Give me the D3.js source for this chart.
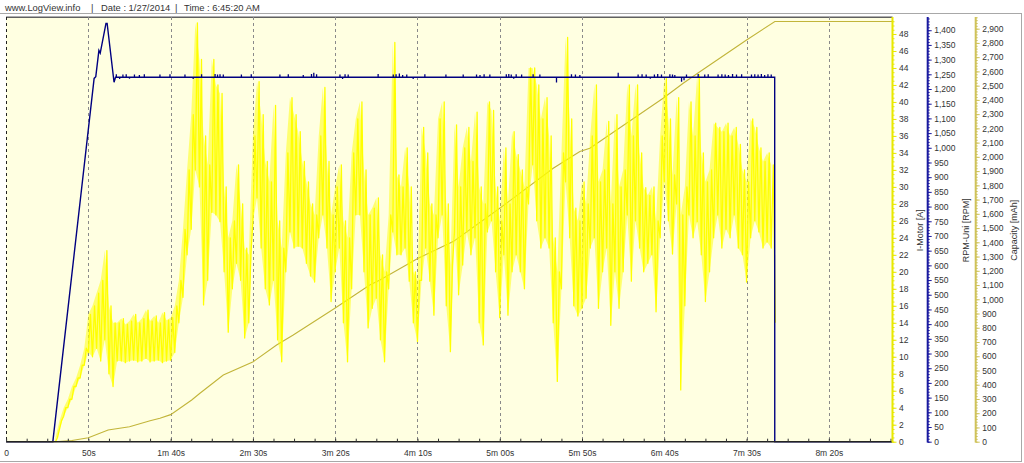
<!DOCTYPE html>
<html><head><meta charset="utf-8">
<script src="https://cdn.jsdelivr.net/npm/d3@7"></script>
<style>
body{margin:0;background:#fff}
svg{display:block}
text{font-family:"Liberation Sans",Arial,sans-serif;fill:#333}
</style>
</head><body>
<svg id="c" width="1024" height="463"></svg>
<script>
// ---------------- data ----------------
const headerItems = ["www.LogView.info", "|", "Date : 1/27/2014", "|", "Time : 6:45:20 AM"];
const timeTicks = [0, 50, 100, 150, 200, 250, 300, 350, 400, 450, 500];
const timeTickLabels = ["0", "50s", "1m 40s", "2m 30s", "3m 20s", "4m 10s", "5m 00s", "5m 50s", "6m 40s", "7m 30s", "8m 20s"];
const timeMax = 538.7;

const currentTicks = [0,2,4,6,8,10,12,14,16,18,20,22,24,26,28,30,32,34,36,38,40,42,44,46,48];
const rpmTicks = [0,50,100,150,200,250,300,350,400,450,500,550,600,650,700,750,800,850,900,950,1000,1050,1100,1150,1200,1250,1300,1350,1400];
const capacityTicks = [0,100,200,300,400,500,600,700,800,900,1000,1100,1200,1300,1400,1500,1600,1700,1800,1900,2000,2100,2200,2300,2400,2500,2600,2700,2800,2900];
const axisTitles = ["I-Motor [A]", "RPM-Uni [RPM]", "Capacity [mAh]"];

// I-Motor [A]: samples every 1.25 s starting at 30 s (alternating local low / high readings)
const currentStart = 30, currentStep = 1.25;
const currentValues = [
  0,0.5, 1.5,2.5, 3,4, 4,5, 5,6.5, 6.5,7.5, 7.5,9, 9,11,
  10.5,15, 10,16, 11,17.5, 9.5,19, 12,22.5, 8,16, 6.5,14, 9.5,14,
  9.5,14.5, 9.3,13.8, 9.5,14.2, 9.6,15, 9.4,14, 9.5,14.5, 9.8,15.5, 9.4,14.2,
  9.5,14.8, 9.6,14, 9.3,15.2, 9.5,14.3, 9.6,14.6, 10.5,16,
  14,19, 17,25, 22,32, 25,38.5,
  32,49.3, 30,45, 16.1,36, 19,32.6,
  27,45, 26.7,42, 25.9,41, 20,30,
  12.9,24, 18,26, 21,32.6, 19,28,
  12.2,22.8, 14,22, 26,36, 28.7,42.4,
  22.8,38.5, 18,33, 16.1,30.6, 19,39.6,
  12,26, 9.4,22.8, 20,34, 24.7,40.5,
  22.8,38.5, 23,36.5, 22.8,33, 21,30.6,
  19.5,28, 18.8,26.7, 24,36, 26.7,41.7,
  22.8,33, 16.5,26.7, 20,30, 22.8,32.6,
  14,26, 9.4,24, 18,34, 26.7,38,
  26.7,40, 20,32, 13.4,26.7, 15.7,27.5,
  16.9,28.7, 12,22, 9.4,20, 18,26.7,
  24.7,47, 22,31.4, 22,30, 22.8,34.6,
  18.9,30, 14,20, 11.8,19, 19,37,
  22.8,34, 18.9,28, 14.9,26.7, 24,38,
  26.7,40, 16,28, 10.6,20.8, 24.7,37.3,
  17.3,30, 20.8,34.6, 24.7,37, 22,33,
  24,38.8, 14,30, 11.4,28, 24.7,40,
  26,39, 20,30, 14.6,26, 22,34.6,
  14.9,28, 20,36.5, 22,33.8, 20,32,
  18,30, 28,44, 32.6,44, 26,42,
  22.8,38, 24,40.5, 22.8,36, 14,24,
  7.1,20, 18,34, 30.6,47.6, 24,38,
  16,27.5, 14.8,26, 15.7,30.6, 16.9,28,
  22.8,36, 24,42, 15.7,30.6, 20,32,
  22.8,37.7, 13.7,28, 20,38.5, 15.7,30,
  20,32, 26.7,42, 18.9,36, 26,42,
  22.8,34, 20,29.9, 21,29, 22,30,
  15.3,26, 24,36, 30.6,42.8, 26,38,
  22.1,31.4, 28,40.5, 6.1,26.7, 16,30,
  26.7,40, 24,36, 25.9,43.2, 22,34,
  16.5,30.6, 20,32, 24,37.5, 26.7,37,
  22.8,36.5, 25,37.5, 24,36, 26.7,37,
  22.8,35, 22,32, 18.8,30.6, 24,38,
  26,37, 24.7,34.6, 22.8,33, 23.5,34,
  22.8,32.6, 14
];

// RPM-Uni [RPM]
const rpmTimes  = [0, 28.4, 53.5, 54.5, 56.4, 57.2, 60.7, 61.4, 65.6, 66.5, 467.1, 467.15, 538.7];
const rpmValues = [0, 0, 1236, 1242, 1331, 1322, 1423, 1423, 1223, 1240, 1240, 0, 0];
const rpmPlateau = 1240;
const rpmSpikeTimes  = [67,69,71,73,75,78,81,84,93.5,99.6,108.7,113.7,118.8,127,128.5,130,132,143,149,166.4,171.5,180.6,185.6,187,188.7,202.9,204.5,206,207.9,226.1,235.3,237,239,241,243.5,247.4,254.5,267.3,277.8,285.9,288,290.5,294,304,305.5,307,308.5,310,313.3,320.3,324.4,334.5,343.6,346,348.7,372,384.1,386.5,389,391.5,394,396,398.3,403.4,405,406.4,410.5,412,413.5,420.6,424.6,426.7,432.7,435,437,439,441.5,443.9,447,453,455,457,459,461,463,465];
const rpmSpikeValues = [1250,1234,1249,1250,1235,1249,1248,1250,
  1249,1250,1249,1234,1250,
  1251,1249,1250,1249,
  1249,1250,
  1249,1250,1248,
  1251,1255,1250,
  1249,1234,1250,1249,
  1251,
  1249,1250,1253,1248,1249,1234,
  1250,1249,1249,
  1249,1248,1250,1249,
  1250,1251,1249,1235,1250,1249,
  1250,1249,1222,
  1250,1249,1248,
  1255,
  1249,1250,1249,1235,1249,1251,1249,
  1250,1249,1248,
  1225,1230,1249,
  1251,1249,1250,
  1249,1250,1249,1248,1251,1249,
  1250,
  1249,1250,1249,1251,1248,1250,1249];

// Capacity [mAh]
const capacityTimes  = [0, 30, 40, 50, 62, 75, 87.5, 93.5, 100, 112.8, 117.8, 132, 150.2, 164.4, 174.5, 199.8, 221, 227.2, 250.4, 271.7, 300, 332.5, 348.7, 354.8, 399.3, 411.5, 421.6, 450, 467.2, 538.7];
const capacityValues = [0, 0, 8, 28, 82, 105, 147, 164, 190, 293, 340, 468, 562, 679, 749, 937, 1100, 1136, 1288, 1405, 1639, 1920, 2037, 2060, 2412, 2517, 2598, 2821, 2950, 2950];

// ---------------- layout ----------------
const W = 1024, H = 463;
const plotLeft = 6.1, plotRight = 892.5, plotTop = 17, plotBottom = 441.7;
const axisIx = 892.5, axisRx = 927.7, axisCx = 975.7;

const svg = d3.select("#c");
svg.append("rect").attr("width", W).attr("height", H).attr("fill", "#fff");

const x = d3.scaleLinear().domain([0, timeMax]).range([plotLeft, plotRight]);
const yI = d3.scaleLinear().domain([0, 50]).range([plotBottom, plotTop]);
const yR = d3.scaleLinear().domain([0, 1445]).range([plotBottom, plotTop]);
const yC = d3.scaleLinear().domain([0, 2982]).range([plotBottom, plotTop]);

// frame
svg.append("line").attr("x1", 0).attr("x2", 1022).attr("y1", 13.5).attr("y2", 13.5).attr("stroke", "#a8a8a8");
svg.append("line").attr("x1", 1021.5).attr("x2", 1021.5).attr("y1", 13.5).attr("y2", 461.5).attr("stroke", "#a8a8a8");
svg.append("line").attr("x1", 0).attr("x2", 1022).attr("y1", 461.5).attr("y2", 461.5).attr("stroke", "#a8a8a8");

// header
const headerX = [5, 91, 101, 175, 184];
svg.selectAll("text.hdr").data(headerItems).join("text").attr("class", "hdr")
  .attr("x", (d, i) => headerX[i]).attr("y", 10.5)
  .attr("font-size", 9.4).attr("fill", (d, i) => d === "|" ? "#7a8aa0" : "#333")
  .text(d => d);

// plot background
svg.append("rect").attr("x", plotLeft).attr("y", plotTop).attr("width", plotRight - plotLeft).attr("height", plotBottom - plotTop).attr("fill", "#ffffe1");
svg.append("line").attr("x1", plotLeft).attr("x2", plotRight).attr("y1", plotTop + 0.3).attr("y2", plotTop + 0.3).attr("stroke", "#606060").attr("stroke-width", 1.4);

// grid
svg.append("g").selectAll("line").data(timeTicks).join("line")
  .attr("x1", d => Math.round(x(d)) + 0.5).attr("x2", d => Math.round(x(d)) + 0.5)
  .attr("y1", plotTop).attr("y2", plotBottom)
  .attr("stroke", d => d === 0 ? "#222" : "#8a8a8a").attr("stroke-width", 1)
  .attr("stroke-dasharray", "3,3");

// clip
svg.append("clipPath").attr("id", "clip").append("rect")
  .attr("x", plotLeft).attr("y", plotTop - 1).attr("width", plotRight - plotLeft).attr("height", plotBottom - plotTop + 2);
const plot = svg.append("g").attr("clip-path", "url(#clip)");

// capacity line
plot.append("path").datum(capacityTimes.map((t, i) => [t, capacityValues[i]]))
  .attr("fill", "none").attr("stroke", "#c2b53a").attr("stroke-width", 1.1)
  .attr("d", d3.line().x(d => x(d[0])).y(d => yC(d[1])));

// current: band between consecutive low/high readings + the trace itself
const currentPts = currentValues.map((v, i) => [currentStart + i * currentStep, v]);
const bandPts = [];
for (let i = 0; i + 1 < currentPts.length; i += 2) bandPts.push([currentPts[i][0], currentPts[i][1], currentPts[i + 1][1]]);
plot.append("path").datum(bandPts)
  .attr("fill", "#ffff00").attr("fill-opacity", 0.5)
  .attr("d", d3.area().x(d => x(d[0])).y0(d => yI(d[1])).y1(d => yI(d[2])));
plot.append("path").datum(currentPts)
  .attr("fill", "none").attr("stroke", "#ffff00").attr("stroke-width", 1.3).attr("stroke-linejoin", "round")
  .attr("d", d3.line().x(d => x(d[0])).y(d => yI(d[1])));

// rpm line
plot.append("path").datum(rpmTimes.map((t, i) => [t, rpmValues[i]]))
  .attr("fill", "none").attr("stroke", "#000080").attr("stroke-width", 1.4)
  .attr("d", d3.line().x(d => x(d[0])).y(d => yR(d[1])));
plot.append("g").selectAll("line").data(rpmSpikeTimes).join("line")
  .attr("x1", d => x(d)).attr("x2", d => x(d))
  .attr("y1", yR(rpmPlateau)).attr("y2", (d, i) => yR(rpmSpikeValues[i]))
  .attr("stroke", "#000080").attr("stroke-width", 1.3);

// x axis
svg.append("line").attr("x1", plotLeft).attr("x2", plotRight).attr("y1", plotBottom).attr("y2", plotBottom)
  .attr("stroke", "#222").attr("stroke-width", 1.6);
const xMinor = svg.append("g").attr("transform", `translate(0,${plotBottom})`)
  .call(d3.axisBottom(x).tickValues(d3.range(0, timeMax, 12.5)).tickSize(-3).tickSizeOuter(0).tickFormat(""));
xMinor.select(".domain").remove();
xMinor.selectAll("line").attr("stroke", "#333");
const xLab = svg.append("g").attr("transform", `translate(0,${plotBottom})`)
  .call(d3.axisBottom(x).tickValues(timeTicks).tickSize(0).tickPadding(8).tickFormat((d, i) => timeTickLabels[i]));
xLab.select(".domain").remove();
xLab.selectAll("text").attr("font-size", 8.5).attr("font-family", "Liberation Sans, Arial, sans-serif").attr("fill", "#333");

// y axes
function yAxis(scale, xpos, ticks, minorStep, max, color, fmt) {
  const gm = svg.append("g").attr("transform", `translate(${xpos},0)`)
    .call(d3.axisRight(scale).tickValues(d3.range(0, max, minorStep)).tickSize(2).tickSizeOuter(0).tickFormat(""));
  gm.select(".domain").remove();
  gm.selectAll("line").attr("stroke", color);
  const g = svg.append("g").attr("transform", `translate(${xpos},0)`)
    .call(d3.axisRight(scale).tickValues(ticks).tickSize(4).tickPadding(2.5).tickSizeOuter(0).tickFormat(fmt));
  g.select(".domain").remove();
  g.selectAll("line").attr("stroke", color);
  g.selectAll("text").attr("font-size", 8.5).attr("font-family", "Liberation Sans, Arial, sans-serif").attr("fill", "#333");
  svg.append("line").attr("x1", xpos).attr("x2", xpos).attr("y1", plotTop).attr("y2", plotBottom + 0.8)
    .attr("stroke", color).attr("stroke-width", 2);
}
yAxis(yI, axisIx, currentTicks, 0.5, 50, "#e8e800", d3.format("d"));
yAxis(yR, axisRx, rpmTicks, 10, 1445, "#1a1aa0", d3.format(","));
yAxis(yC, axisCx, capacityTicks, 20, 2982, "#cfc25a", d3.format(","));

// axis titles
const titleX = [919.5, 966, 1014];
svg.selectAll("text.ttl").data(axisTitles).join("text").attr("class", "ttl")
  .attr("transform", (d, i) => `translate(${titleX[i]},${(plotTop + plotBottom) / 2 + 1}) rotate(-90)`)
  .attr("text-anchor", "middle").attr("dy", "0.35em").attr("font-size", 9).attr("fill", "#333")
  .text(d => d);
</script>
</body></html>
